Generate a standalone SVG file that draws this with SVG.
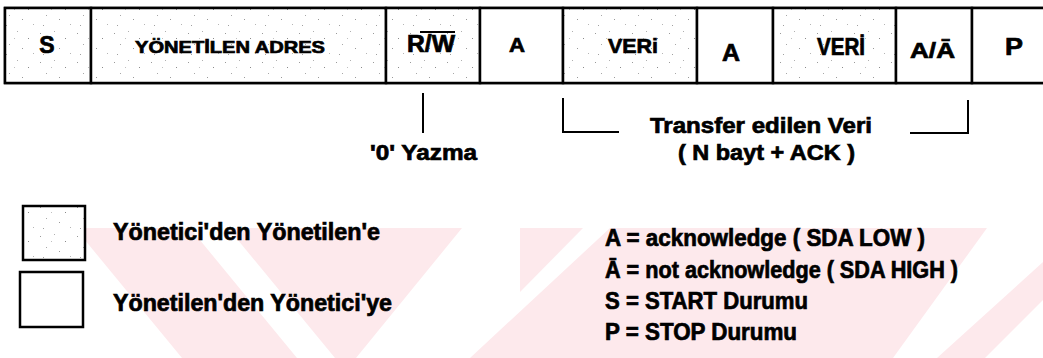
<svg xmlns="http://www.w3.org/2000/svg" width="1043" height="358" viewBox="0 0 1043 358">
<defs>
<pattern id="speck" width="37" height="29" patternUnits="userSpaceOnUse">
<rect width="37" height="29" fill="#ffffff"/>
<rect x="3" y="4" width="1" height="1" fill="#9a9a9a"/>
<rect x="17" y="2" width="1" height="1" fill="#b0b0b0"/>
<rect x="28" y="9" width="1" height="1" fill="#8a8a8a"/>
<rect x="9" y="15" width="1" height="1" fill="#a8a8a8"/>
<rect x="22" y="19" width="1" height="1" fill="#999999"/>
<rect x="33" y="24" width="1" height="1" fill="#b5b5b5"/>
<rect x="6" y="25" width="1" height="1" fill="#a0a0a0"/>
<rect x="14" y="9" width="1" height="1" fill="#c0c0c0"/>
</pattern>
</defs>
<style>
.t{font-family:"Liberation Sans",Arial,sans-serif;font-weight:bold;fill:#000;stroke:#000;stroke-width:0.7}
.box{stroke:#000;stroke-width:2.5;fill:#fff}
.sp{fill:url(#speck)}
.ln{stroke:#000;stroke-width:2;fill:none}
.wm{fill:#fde9ec}
</style>
<rect width="1043" height="358" fill="#fff"/>
<g id="watermark">
<polygon class="wm" points="75,228 190,228 297,358 182,358"/>
<polygon class="wm" points="228,228 462,228 356,358 335,358"/>
<polygon class="wm" points="520,228 583,228 520,292"/>
<polygon class="wm" points="610,228 987,228 893,358 470,358"/>
<polygon class="wm" points="1043,262 1043,300 985,358 937,358"/>
</g>
<g id="frame">
<rect class="box" x="5" y="8" width="1045" height="75"/>
</g>
<g id="node-s"><rect class="box sp" x="5" y="8" width="86" height="75"/><text class="t" x="47" y="53" font-size="23" text-anchor="middle">S</text></g>
<g id="node-adres"><rect class="box sp" x="91" y="8" width="295" height="75"/><text class="t" x="135" y="53" font-size="17" textLength="190" lengthAdjust="spacingAndGlyphs">YÖNETİLEN ADRES</text></g>
<g id="node-rw"><rect class="box sp" x="386" y="8" width="94" height="75"/><text class="t" x="407" y="52" font-size="23" textLength="48" lengthAdjust="spacingAndGlyphs">R/W</text><line class="ln" x1="420" y1="32" x2="455" y2="32"/></g>
<g id="node-a1"><rect class="box" x="480" y="8" width="83" height="75"/><text class="t" x="517" y="52" font-size="20" text-anchor="middle" textLength="16" lengthAdjust="spacingAndGlyphs">A</text></g>
<g id="node-veri1"><rect class="box sp" x="563" y="8" width="134" height="75"/><text class="t" x="608" y="53" font-size="21" textLength="50" lengthAdjust="spacingAndGlyphs">VERi</text></g>
<g id="node-a2"><rect class="box" x="697" y="8" width="76" height="75"/><text class="t" x="731" y="61" font-size="24" text-anchor="middle" textLength="18" lengthAdjust="spacingAndGlyphs">A</text></g>
<g id="node-veri2"><rect class="box sp" x="773" y="8" width="123" height="75"/><text class="t" x="817" y="55" font-size="23" textLength="48" lengthAdjust="spacingAndGlyphs">VERİ</text></g>
<g id="node-aa"><rect class="box" x="896" y="8" width="76" height="75"/><text class="t" x="910" y="58" font-size="22" textLength="45" lengthAdjust="spacingAndGlyphs">A/Ā</text></g>
<g id="node-p"><rect class="box" x="972" y="8" width="78" height="75"/><text class="t" x="1014" y="55" font-size="24" text-anchor="middle" textLength="18" lengthAdjust="spacingAndGlyphs">P</text></g>
<g id="connectors">
<line class="ln" x1="423" y1="93" x2="423" y2="133"/>
<polyline class="ln" points="563,98 563,132 619,132"/>
<polyline class="ln" points="910,133 968,133 968,100"/>
</g>
<g id="label-yazma"><text class="t" x="370" y="160" font-size="22" textLength="107" lengthAdjust="spacingAndGlyphs">'0' Yazma</text></g>
<g id="label-transfer">
<text class="t" x="650" y="133" font-size="22" textLength="222" lengthAdjust="spacingAndGlyphs">Transfer edilen Veri</text>
<text class="t" x="678" y="160" font-size="22" textLength="177" lengthAdjust="spacingAndGlyphs">( N bayt + ACK )</text>
</g>
<g id="legend-master"><rect class="box sp" x="23" y="206" width="62" height="54"/><text class="t" x="113" y="240" font-size="23" textLength="267" lengthAdjust="spacingAndGlyphs">Yönetici'den Yönetilen'e</text></g>
<g id="legend-slave"><rect class="box" x="20" y="272" width="63" height="55"/><text class="t" x="113" y="311" font-size="23" textLength="279" lengthAdjust="spacingAndGlyphs">Yönetilen'den Yönetici'ye</text></g>
<g id="legend-defs">
<text class="t" x="605" y="246" font-size="23" textLength="320" lengthAdjust="spacingAndGlyphs">A = acknowledge ( SDA LOW )</text>
<text class="t" x="605" y="278" font-size="23" textLength="353" lengthAdjust="spacingAndGlyphs">Ā = not acknowledge ( SDA HIGH )</text>
<text class="t" x="605" y="309" font-size="23" textLength="203" lengthAdjust="spacingAndGlyphs">S = START Durumu</text>
<text class="t" x="605" y="340" font-size="23" textLength="192" lengthAdjust="spacingAndGlyphs">P = STOP Durumu</text>
</g>
</svg>
